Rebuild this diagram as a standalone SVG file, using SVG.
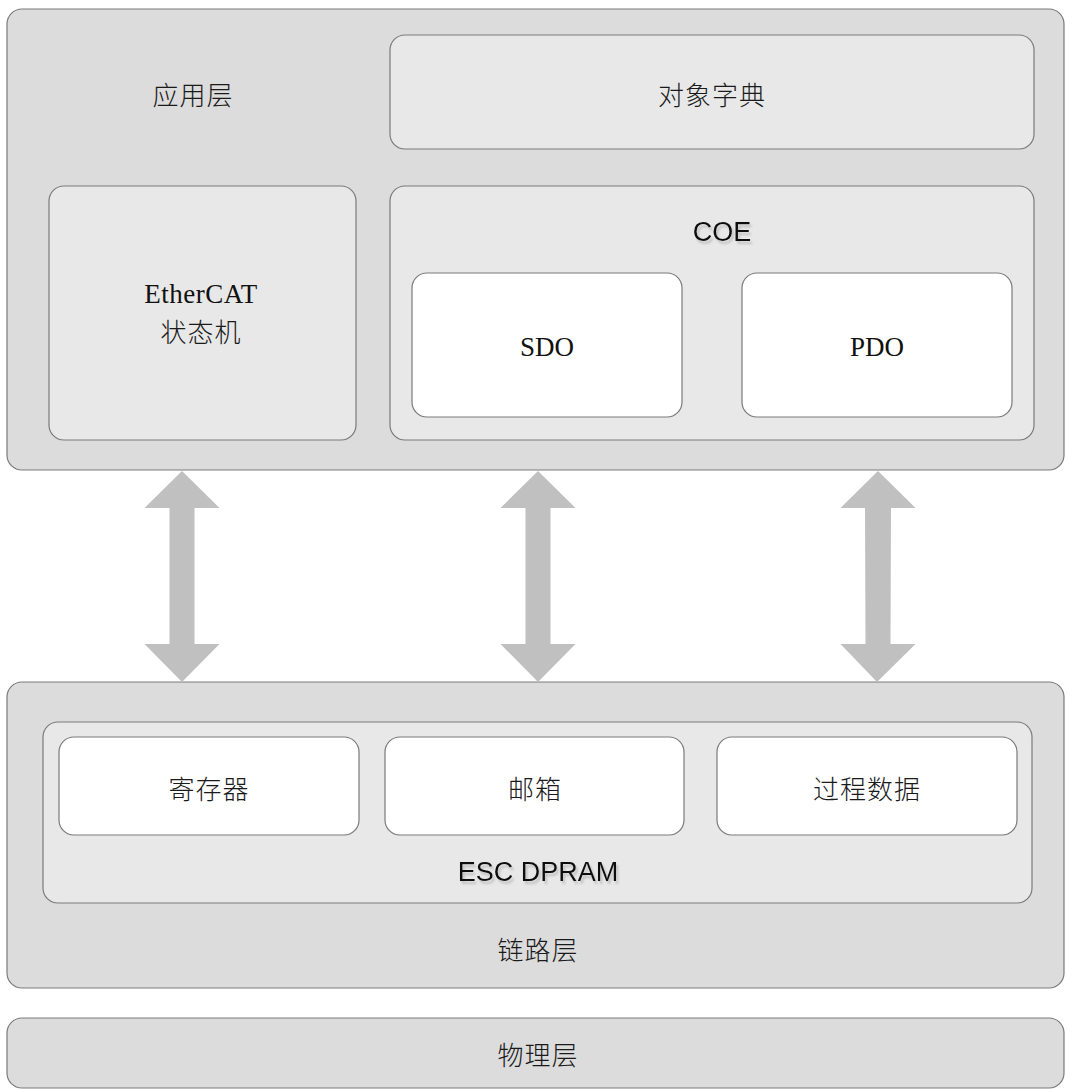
<svg xmlns="http://www.w3.org/2000/svg" width="1065" height="1089" viewBox="0 0 1065 1089">
<style>
.outer{fill:#dcdcdc;stroke:#7a7a7a;stroke-width:1.2}
.inner{fill:#e8e8e8;stroke:#7a7a7a;stroke-width:1.2}
.white{fill:#ffffff;stroke:#7a7a7a;stroke-width:1.2}
.cjk{font-family:"Noto Sans CJK SC",sans-serif;font-size:26px;font-weight:300;fill:#1a1a1a;text-anchor:middle;dominant-baseline:central;letter-spacing:1px}
.serif{font-family:"Liberation Serif",serif;font-size:27px;fill:#111;text-anchor:middle;dominant-baseline:central}
.sans{font-family:"Liberation Sans",sans-serif;font-size:27px;fill:#111;text-anchor:middle;dominant-baseline:central;filter:url(#shadow)}
.arrow{fill:#c0c0c0}
</style>
<defs>
<filter id="shadow" x="-10%" y="-20%" width="130%" height="150%">
<feDropShadow dx="2" dy="3" stdDeviation="1" flood-color="#999999" flood-opacity="0.5"/>
</filter>
</defs>
<rect width="1065" height="1089" fill="#ffffff"/>
<g id="app-layer">
<rect class="outer" x="7" y="9" width="1057" height="461" rx="15"/>
<text class="cjk" x="193" y="93">应用层</text>
</g>
<g id="object-dictionary">
<rect class="inner" x="390" y="35" width="644" height="114" rx="15"/>
<text class="cjk" x="712" y="93">对象字典</text>
</g>
<g id="state-machine">
<rect class="inner" x="49" y="186" width="307" height="254" rx="15"/>
<text class="serif" x="201" y="294" letter-spacing="0.5">EtherCAT</text>
<text class="cjk" x="201" y="330">状态机</text>
</g>
<g id="coe">
<rect class="inner" x="390" y="186" width="644" height="254" rx="15"/>
<text class="sans" x="722" y="232">COE</text>
</g>
<g id="sdo">
<rect class="white" x="412" y="273" width="270" height="144" rx="15"/>
<text class="serif" x="547" y="347">SDO</text>
</g>
<g id="pdo">
<rect class="white" x="742" y="273" width="270" height="144" rx="15"/>
<text class="serif" x="877" y="347">PDO</text>
</g>
<g id="link-layer">
<rect class="outer" x="7" y="682" width="1057" height="306" rx="15"/>
<text class="cjk" x="538" y="948">链路层</text>
</g>
<g id="esc-dpram">
<rect class="inner" x="43" y="722" width="989" height="181" rx="15"/>
<text class="sans" x="538" y="872">ESC DPRAM</text>
</g>
<g id="registers">
<rect class="white" x="59" y="737" width="300" height="98" rx="15"/>
<text class="cjk" x="209" y="787">寄存器</text>
</g>
<g id="mailbox">
<rect class="white" x="385" y="737" width="299" height="98" rx="15"/>
<text class="cjk" x="535" y="787">邮箱</text>
</g>
<g id="process-data">
<rect class="white" x="717" y="737" width="300" height="98" rx="15"/>
<text class="cjk" x="867" y="787">过程数据</text>
</g>
<g id="physical-layer">
<rect class="outer" x="7" y="1018" width="1057" height="70" rx="15"/>
<text class="cjk" x="538" y="1053">物理层</text>
</g>
<g id="connectors">
<polygon class="arrow" points="182,471 219.5,508 194.5,508 194.5,644 219.5,644 182,682 144.5,644 169.5,644 169.5,508 144.5,508"/>
<polygon class="arrow" points="538,471 575.5,508 550.5,508 550.5,644 575.5,644 538,682 500.5,644 525.5,644 525.5,508 500.5,508"/>
<polygon class="arrow" points="878,471 915.5,508 891,508 890.5,644 915.5,644 877,682 840.5,644 865.5,644 865,508 840.5,508"/>
</g>
</svg>
